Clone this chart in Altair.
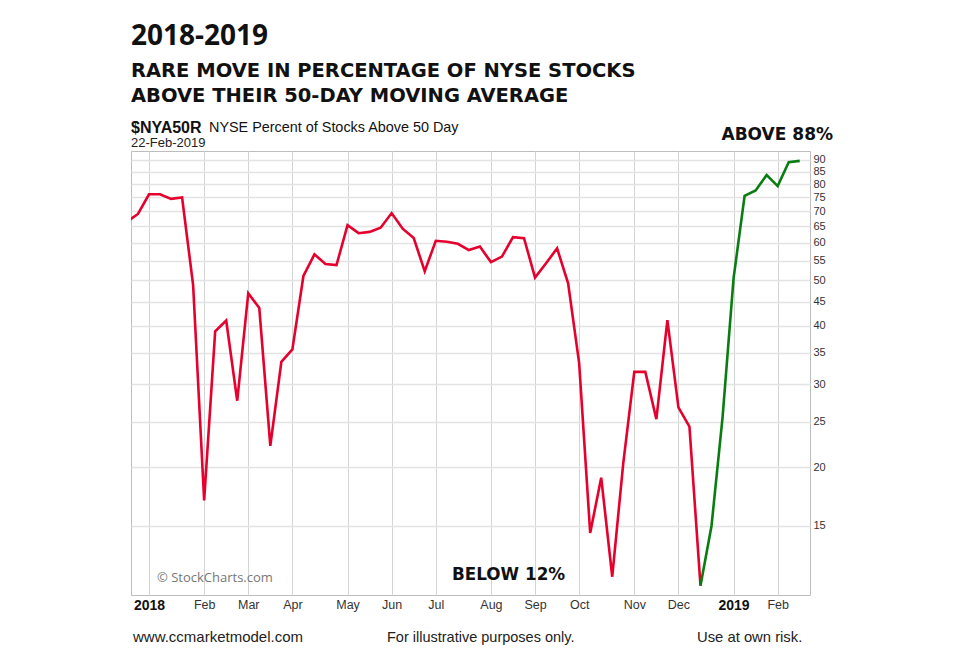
import altair as alt
import pandas as pd

# ---- data (weekly, week starting Monday) ----
start_week = "2017-12-18"
values = [66.5, 69.1, 76.1, 76.1, 74.4, 74.9, 48.8, 17.0, 38.9, 41.0,
          27.7, 46.9, 43.6, 22.2, 33.5, 35.6, 51.0, 56.7, 54.1, 53.8,
          65.4, 62.9, 63.3, 64.6, 69.4, 64.3, 61.4, 52.2, 60.6, 60.3,
          59.7, 57.9, 58.9, 54.6, 56.1, 61.7, 61.4, 50.6, 54.3, 58.4,
          49.2, 33.3, 14.5, 19.0, 11.7, 20.4, 31.9, 31.9, 25.3, 41.1,
          26.8, 24.4, 11.2, 15.0, 25.5, 50.4, 75.5, 77.5, 83.6, 79.2,
          89.0, 89.6]
turn_date = "2018-12-17"   # weekly low: red before, green after

tick_dates = ["2018-01-01", "2018-02-05", "2018-03-05", "2018-04-02", "2018-05-07",
              "2018-06-04", "2018-07-02", "2018-08-06", "2018-09-03", "2018-10-01",
              "2018-11-05", "2018-12-03", "2019-01-07", "2019-02-04"]
tick_labels = ["2018", "Feb", "Mar", "Apr", "May", "Jun", "Jul", "Aug", "Sep",
               "Oct", "Nov", "Dec", "2019", "Feb"]
y_ticks = [15, 20, 25, 30, 35, 40, 45, 50, 55, 60, 65, 70, 75, 80, 85, 90]

base = pd.Timestamp("2018-01-01")
dates = pd.date_range(start_week, periods=len(values), freq="7D")
weeks = [int((d - base).days // 7) for d in dates]
turn_week = int((pd.Timestamp(turn_date) - base).days // 7)
tick_weeks = [int((pd.Timestamp(d) - base).days // 7) for d in tick_dates]
year_weeks = [w for w, l in zip(tick_weeks, tick_labels) if l.isdigit()]

rows = []
for d, w, v in zip(dates, weeks, values):
    if w <= turn_week:
        rows.append({"date": d.strftime("%Y-%m-%d"), "week": w, "value": v, "seg": "down"})
    if w >= turn_week:
        rows.append({"date": d.strftime("%Y-%m-%d"), "week": w, "value": v, "seg": "up"})
df = pd.DataFrame(rows)

RED = "#e5002d"
GREEN = "#0a7d12"

label_expr = "[" + ",".join("'%s'" % l for l in tick_labels) + "][indexof([" + \
    ",".join(str(w) for w in tick_weeks) + "], datum.value)]"
year_test = " || ".join("datum.value == %d" % w for w in year_weeks)

x_axis = alt.Axis(
    values=tick_weeks, labelExpr=label_expr, title=None, grid=True,
    gridColor="#d4d4d4", gridWidth=1, ticks=False, domain=False,
    labelPadding=3, labelFont="Liberation Sans",
    labelFontSize={"condition": {"test": year_test, "value": 14}, "value": 12.5},
    labelFontWeight={"condition": {"test": year_test, "value": "bold"}, "value": "normal"},
    labelColor={"condition": {"test": year_test, "value": "#111111"}, "value": "#333333"},
    labelFlush=False, labelOverlap=False, labelBaseline="top",
)
y_axis = alt.Axis(
    orient="right", values=y_ticks, format="d", title=None, grid=True,
    gridColor="#e3e3e3", gridWidth=1.5, ticks=False, domain=False,
    labelPadding=3, labelFont="Liberation Sans", labelFontSize=11,
    labelColor="#333333", labelOverlap=False, labelFlush=False,
)

line = alt.Chart(df).mark_line(strokeWidth=2.6, clip=True, strokeJoin="miter").encode(
    x=alt.X("week:Q", axis=x_axis,
            scale=alt.Scale(domain=[-1.632, 59.93], nice=False, zero=False)),
    y=alt.Y("value:Q", axis=y_axis,
            scale=alt.Scale(type="log", domain=[10.7, 94.05], nice=False)),
    color=alt.Color("seg:N", legend=None,
                    scale=alt.Scale(domain=["down", "up"], range=[RED, GREEN])),
    detail="seg:N",
    order="week:Q",
)

one = alt.Data(values=[{"k": 1}])


def txt(s, x, y, size, weight="normal", font="Liberation Sans", color="#111111",
        align="left"):
    m = alt.Chart(one).mark_text(
        text=s, font=font, fontSize=size, fontWeight=weight, color=color,
        align=align, baseline="alphabetic",
    )
    return m.encode(x=alt.value(x), y=alt.value(y))


texts = [
    txt("2018-2019", 0, -106, 28, "bold", "Open Sans", "#111111"),
    txt("RARE MOVE IN PERCENTAGE OF NYSE STOCKS", 0, -74, 19.5, "bold", "DejaVu Sans", "#111111"),
    txt("ABOVE THEIR 50-DAY MOVING AVERAGE", 0, -49, 19.5, "bold", "DejaVu Sans", "#111111"),
    txt("$NYA50R", 0, -18, 16, "bold", "Liberation Sans", "#111111"),
    txt("NYSE Percent of Stocks Above 50 Day", 78, -19, 14.4, "normal", "Liberation Sans", "#111111"),
    txt("22-Feb-2019", 0, -4, 13, "normal", "Liberation Sans", "#222222"),
    txt("ABOVE 88%", 702, -11, 17, "bold", "DejaVu Sans", "#111111", align="right"),
    txt("BELOW 12%", 321, 429, 16.8, "bold", "DejaVu Sans", "#111111"),
    txt("\u00a9 StockCharts.com", 26, 431, 13, "normal", "Open Sans", "#777777"),
    txt("www.ccmarketmodel.com", 2, 491, 15, "normal", "Liberation Sans", "#222222"),
    txt("For illustrative purposes only.", 256, 491, 14.5, "normal", "Liberation Sans", "#222222"),
    txt("Use at own risk.", 566, 491, 14.8, "normal", "Liberation Sans", "#222222"),
]

chart = alt.layer(line, *texts).properties(
    width=679, height=444,
    autosize=alt.AutoSizeParams(type="none"),
    padding={"left": 123, "top": 143, "right": 110, "bottom": 55},
    background="white",
).configure_view(stroke="#bdbdbd", strokeWidth=1)

chart.save("out.html", embed_options={"renderer": "svg", "actions": False})
